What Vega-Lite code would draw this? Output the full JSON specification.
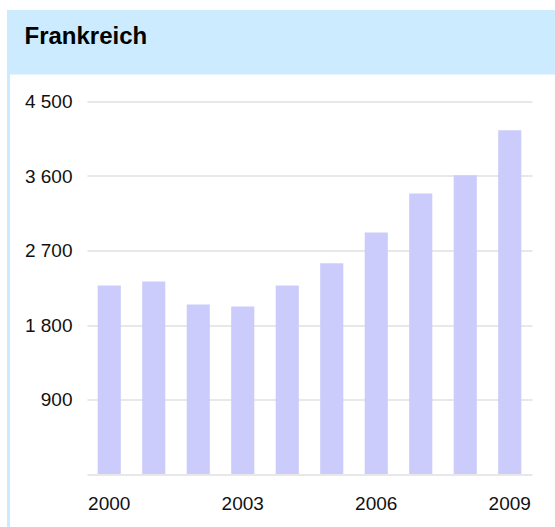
{
  "$schema": "https://vega.github.io/schema/vega-lite/v6.json",
  "padding": {"left": 7, "top": 10, "right": 0, "bottom": 0},
  "background": "white",
  "config": {"view": {"stroke": null}, "font": "Liberation Sans"},
  "bounds": "flush",
  "spacing": 0,
  "hconcat": [
    {
      "width": 3,
      "height": 517,
      "view": {"fill": "#cdebfe", "stroke": null},
      "data": {"values": []},
      "mark": "rect",
      "encoding": {}
    },
    {
      "spacing": 26.5,
      "bounds": "flush",
      "vconcat": [
        {
          "width": 545,
          "height": 64.5,
          "view": {"fill": "#cdebfe", "stroke": null},
          "data": {"values": []},
          "mark": "rect",
          "encoding": {},
          "title": {
            "text": "Frankreich",
            "anchor": "start",
            "orient": "top",
            "frame": "group",
            "offset": -58,
            "dx": 14.5,
            "fontSize": 24,
            "fontWeight": "bold",
            "color": "#000000",
            "baseline": "alphabetic"
          }
        },
        {
          "spacing": 76,
          "bounds": "flush",
          "hconcat": [
            {
              "width": 1,
              "height": 1,
              "data": {"values": []},
              "mark": "rect",
              "encoding": {}
            },
            {
              "width": 445,
              "height": 372.5,
              "data": {
                "values": [
                  {"year": "2000", "value": 2278},
                  {"year": "2001", "value": 2326},
                  {"year": "2002", "value": 2048},
                  {"year": "2003", "value": 2024},
                  {"year": "2004", "value": 2278},
                  {"year": "2005", "value": 2545},
                  {"year": "2006", "value": 2918},
                  {"year": "2007", "value": 3390},
                  {"year": "2008", "value": 3608},
                  {"year": "2009", "value": 4152}
                ]
              },
              "mark": {"type": "bar", "color": "#ccccfc"},
              "encoding": {
                "x": {
                  "field": "year",
                  "type": "ordinal",
                  "scale": {"paddingInner": 0.48, "paddingOuter": 0.24},
                  "axis": {
                    "title": null,
                    "values": ["2000", "2003", "2006", "2009"],
                    "labelAngle": 0,
                    "ticks": false,
                    "domain": false,
                    "grid": false,
                    "labelFontSize": 19,
                    "labelPadding": 20,
                    "labelColor": "#111111"
                  }
                },
                "y": {
                  "field": "value",
                  "type": "quantitative",
                  "scale": {"domain": [0, 4500], "nice": false},
                  "axis": {
                    "title": null,
                    "values": [0, 900, 1800, 2700, 3600, 4500],
                    "labelExpr": "datum.value == 0 ? '' : replace(format(datum.value, ','), ',', ' ')",
                    "ticks": false,
                    "domain": false,
                    "labelFontSize": 19,
                    "labelPadding": 15,
                    "labelColor": "#111111",
                    "gridColor": "#e0e0e0",
                    "gridWidth": 1.5
                  }
                }
              }
            }
          ]
        }
      ]
    }
  ]
}
